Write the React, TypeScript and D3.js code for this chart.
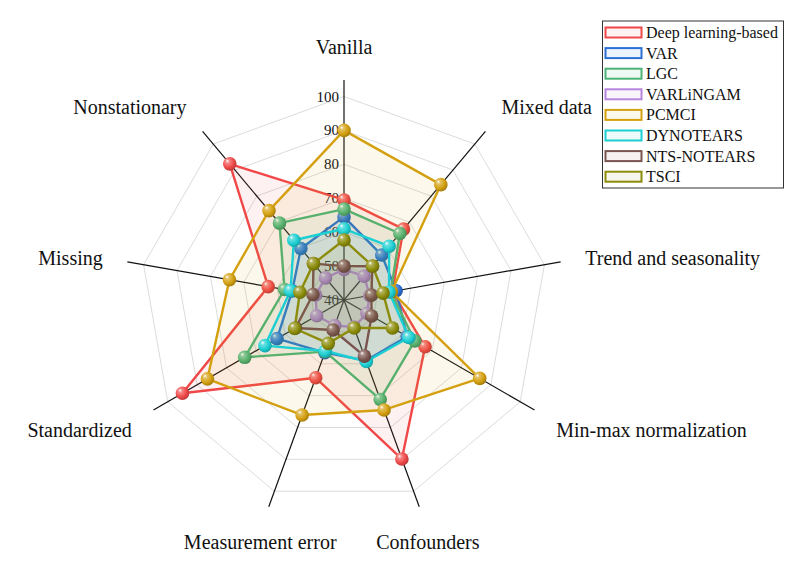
import React, { useEffect, useRef } from "react";
import * as d3 from "d3";

// axes, clockwise from the top
const axisNames = [
  "Vanilla",
  "Mixed data",
  "Trend and seasonality",
  "Min-max normalization",
  "Confounders",
  "Measurement error",
  "Standardized",
  "Missing",
  "Nonstationary",
];

const deepLearning = [69.5, 67.3, 54.5, 67.6, 89.9, 64.4, 95, 62.7, 92.4];
const varModel = [64.5, 57.3, 55.6, 61.5, 59, 56.5, 62.8, 55.5, 59.8];
const lgc = [66.8, 65.6, 54, 64.1, 71.2, 56.2, 73.8, 57.8, 69.6];
const varlingam = [49, 49.2, 47.7, 47.8, 48.5, 48, 49.3, 48.5, 48.5];
const pcmci = [90, 84.4, 54.2, 86.2, 74.5, 76.1, 86.5, 74.3, 74.4];
const dynotears = [61, 60.7, 53.5, 62.1, 59.3, 56, 66.9, 56, 63];
const ntsNotears = [50, 53, 48.2, 49.4, 57.6, 49.4, 56.5, 49.3, 54];
const tsci = [57.7, 53.1, 51.7, 56.5, 48.8, 53.6, 56.8, 53.2, 54];

const seriesNames = [
  "Deep learning-based",
  "VAR",
  "LGC",
  "VARLiNGAM",
  "PCMCI",
  "DYNOTEARS",
  "NTS-NOTEARS",
  "TSCI",
];
const seriesValues = [deepLearning, varModel, lgc, varlingam, pcmci, dynotears, ntsNotears, tsci];
const seriesColors = [
  "#f04848",
  "#2a6fd4",
  "#4cb276",
  "#b884dc",
  "#d4a010",
  "#1ccfd2",
  "#7a5450",
  "#8c8c0a",
];

const tickValues = [40, 50, 60, 70, 80, 90, 100];

export default function App() {
  const ref = useRef<SVGSVGElement>(null);

  useEffect(() => {
    const svg = d3.select(ref.current);
    svg.selectAll("*").remove();

    const cx = 344;
    const cy = 300;
    const font = "'Liberation Serif', 'Times New Roman', serif";

    const r = d3.scaleLinear().domain([40, 100]).range([0, 203.5]);
    const axisLength = 220;
    const angle = d3
      .scaleLinear()
      .domain([0, axisNames.length])
      .range([0, 2 * Math.PI]);

    const g = svg.append("g").attr("transform", `translate(${cx},${cy})`);

    // gradients for the ball markers
    const defs = svg.append("defs");
    seriesColors.forEach((c, i) => {
      const grad = defs
        .append("radialGradient")
        .attr("id", `ball-${i}`)
        .attr("cx", "40%")
        .attr("cy", "40%")
        .attr("fx", "32%")
        .attr("fy", "28%")
        .attr("r", "65%");
      grad.append("stop").attr("offset", "0%").attr("stop-color", "#ffffff");
      grad
        .append("stop")
        .attr("offset", "22%")
        .attr("stop-color", d3.interpolateRgb(c, "#ffffff")(0.35));
      grad.append("stop").attr("offset", "65%").attr("stop-color", c);
      grad
        .append("stop")
        .attr("offset", "100%")
        .attr("stop-color", d3.color(c)!.darker(0.8).toString());
    });

    const ringLine = d3
      .lineRadial<number>()
      .angle((_, i) => angle(i))
      .radius((d) => r(d))
      .curve(d3.curveLinearClosed);

    // grid rings
    g.append("g")
      .selectAll("path")
      .data(tickValues.slice(1))
      .enter()
      .append("path")
      .attr("d", (v) => ringLine(axisNames.map(() => v)))
      .attr("fill", "none")
      .attr("stroke", "#dcdcdc")
      .attr("stroke-width", 1);

    // spokes
    g.append("g")
      .selectAll("line")
      .data(axisNames)
      .enter()
      .append("line")
      .attr("x1", 0)
      .attr("y1", 0)
      .attr("x2", (_, i) => axisLength * Math.sin(angle(i)))
      .attr("y2", (_, i) => -axisLength * Math.cos(angle(i)))
      .attr("stroke", "#111")
      .attr("stroke-width", 1.2);

    // tick labels on the first axis
    g.append("g")
      .selectAll("text")
      .data(tickValues)
      .enter()
      .append("text")
      .attr("x", -5)
      .attr("y", (v) => -r(v))
      .attr("text-anchor", "end")
      .attr("dominant-baseline", "central")
      .attr("font-family", font)
      .attr("font-size", 15)
      .attr("fill", "#111")
      .text((v) => v);

    // axis labels
    const labelR = 245;
    g.append("g")
      .selectAll("text")
      .data(axisNames)
      .enter()
      .append("text")
      .attr("x", (_, i) => labelR * Math.sin(angle(i)))
      .attr("y", (_, i) => -247 * Math.cos(angle(i)) + 2 - 8 * Math.cos(angle(i)))
      .attr("text-anchor", (_, i) => {
        const s = Math.sin(angle(i));
        if (Math.abs(s) < 0.5) return "middle";
        return s > 0 ? "start" : "end";
      })
      .attr("dominant-baseline", "central")
      .attr("font-family", font)
      .attr("font-size", 20)
      .attr("fill", "#111")
      .text((d) => d);

    // series polygons
    const polys = g.append("g");
    seriesValues.forEach((vals, si) => {
      const c = seriesColors[si];
      polys
        .append("path")
        .attr("d", ringLine(vals))
        .attr("fill", c)
        .attr("fill-opacity", 0.08)
        .attr("stroke", c)
        .attr("stroke-width", 2.4)
        .attr("stroke-linejoin", "round");

      polys
        .append("g")
        .selectAll("circle")
        .data(vals)
        .enter()
        .append("circle")
        .attr("cx", (d, i) => r(d) * Math.sin(angle(i)))
        .attr("cy", (d, i) => -r(d) * Math.cos(angle(i)))
        .attr("r", 6.8)
        .attr("fill", `url(#ball-${si})`);
    });

    // legend
    const legend = svg.append("g").attr("transform", "translate(602.5,21)");
    legend
      .append("rect")
      .attr("width", 181)
      .attr("height", 167)
      .attr("fill", "#fff")
      .attr("stroke", "#333")
      .attr("stroke-width", 1);

    const item = legend
      .selectAll("g.item")
      .data(seriesNames)
      .enter()
      .append("g")
      .attr("class", "item")
      .attr("transform", (_, i) => `translate(0, ${11.5 + i * 20.6})`);

    item
      .append("rect")
      .attr("x", 3)
      .attr("y", -5)
      .attr("width", 36)
      .attr("height", 10)
      .attr("fill", (_, i) => seriesColors[i])
      .attr("fill-opacity", 0.08)
      .attr("stroke", (_, i) => seriesColors[i])
      .attr("stroke-width", 2);

    item
      .append("text")
      .attr("x", 43.5)
      .attr("y", 0)
      .attr("dominant-baseline", "central")
      .attr("font-family", font)
      .attr("font-size", 16)
      .attr("fill", "#111")
      .text((d) => d);
  }, []);

  return (
    <svg
      ref={ref}
      width={793}
      height={563}
      style={{ position: "absolute", left: 0, top: 0, background: "#fff" }}
    />
  );
}
